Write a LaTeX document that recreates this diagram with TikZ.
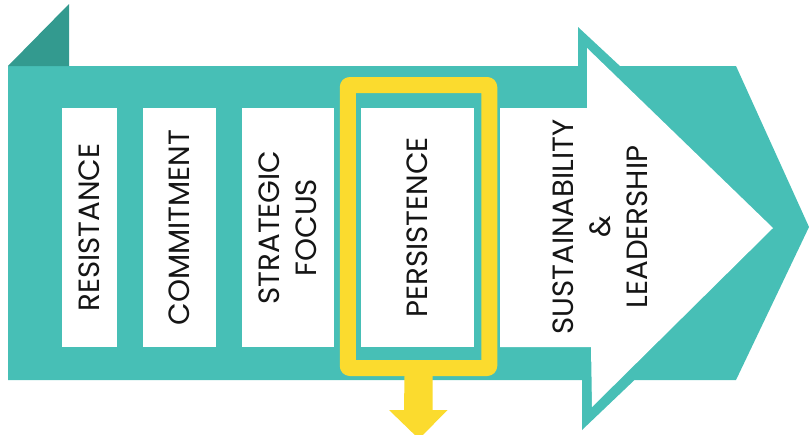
\documentclass[tikz,border=0pt]{standalone}
\usepackage{fontspec}
\setmainfont{Poppins}
\usetikzlibrary{calc}
\definecolor{teal1}{HTML}{47BFB6}
\definecolor{teal2}{HTML}{339A8F}
\definecolor{yel}{HTML}{FBDB2E}
\definecolor{ink}{HTML}{151515}
\begin{document}
\begin{tikzpicture}[x=1pt,y=-1pt,
  stagefont/.style={font=\fontsize{29.3}{37}\selectfont},
  stagebox/.style={fill=white, rotate=90, inner sep=0pt, align=center, text=ink,
    stagefont, minimum width=239pt},
  ]
\useasboundingbox (0,0) rectangle (809,434);
% teal band with chevron end
\fill[teal1] (8,66) -- (736,66) -- (809,227) -- (736,380) -- (8,380) -- cycle;
% teal outline of the big arrow head
\fill[teal1] (578,66) -- (578,27) -- (794,228) -- (582,430) -- (582,380) -- cycle;
% dark fold at top left
\fill[teal2] (8,66) -- (69,66) -- (69,4) -- cycle;
% stage boxes
\node[stagebox, minimum height=55pt] (res) at (89.5,227.5) {RESISTANCE};
\node[stagebox, minimum height=73pt] (com) at (179.5,227.5) {COMMITMENT};
\node[stagebox, minimum height=92pt] (str) at (288,227.5) {STRATEGIC\\FOCUS};
\node[stagebox, minimum height=113pt] (per) at (417.5,227.5) {PERSISTENCE};
% white arrow
\fill[white] (500,108) -- (587,108) -- (587,48) -- (773,228) -- (592,407) -- (591,347) -- (500,347) -- cycle;
\node[rotate=90, align=center, text=ink, inner sep=0pt, stagefont] (sus) at (600,227)
  {SUSTAINABILITY\\\&\\LEADERSHIP};
% yellow highlight frame
\node[draw=yel, line width=16pt, line join=round, rounded corners=2pt,
  minimum width=141.5pt, minimum height=283pt, inner sep=0pt] (frame) at (418.5,226.5) {};
\fill[yel] ($(frame.south)+(-14,0)$) -- ++(28,0) -- ++(0,34) -- ++(15,0)
  -- ($(frame.south)+(0.5,63)$) -- ++(-30,-29) -- ++(15,0) -- cycle;
\end{tikzpicture}
\end{document}
